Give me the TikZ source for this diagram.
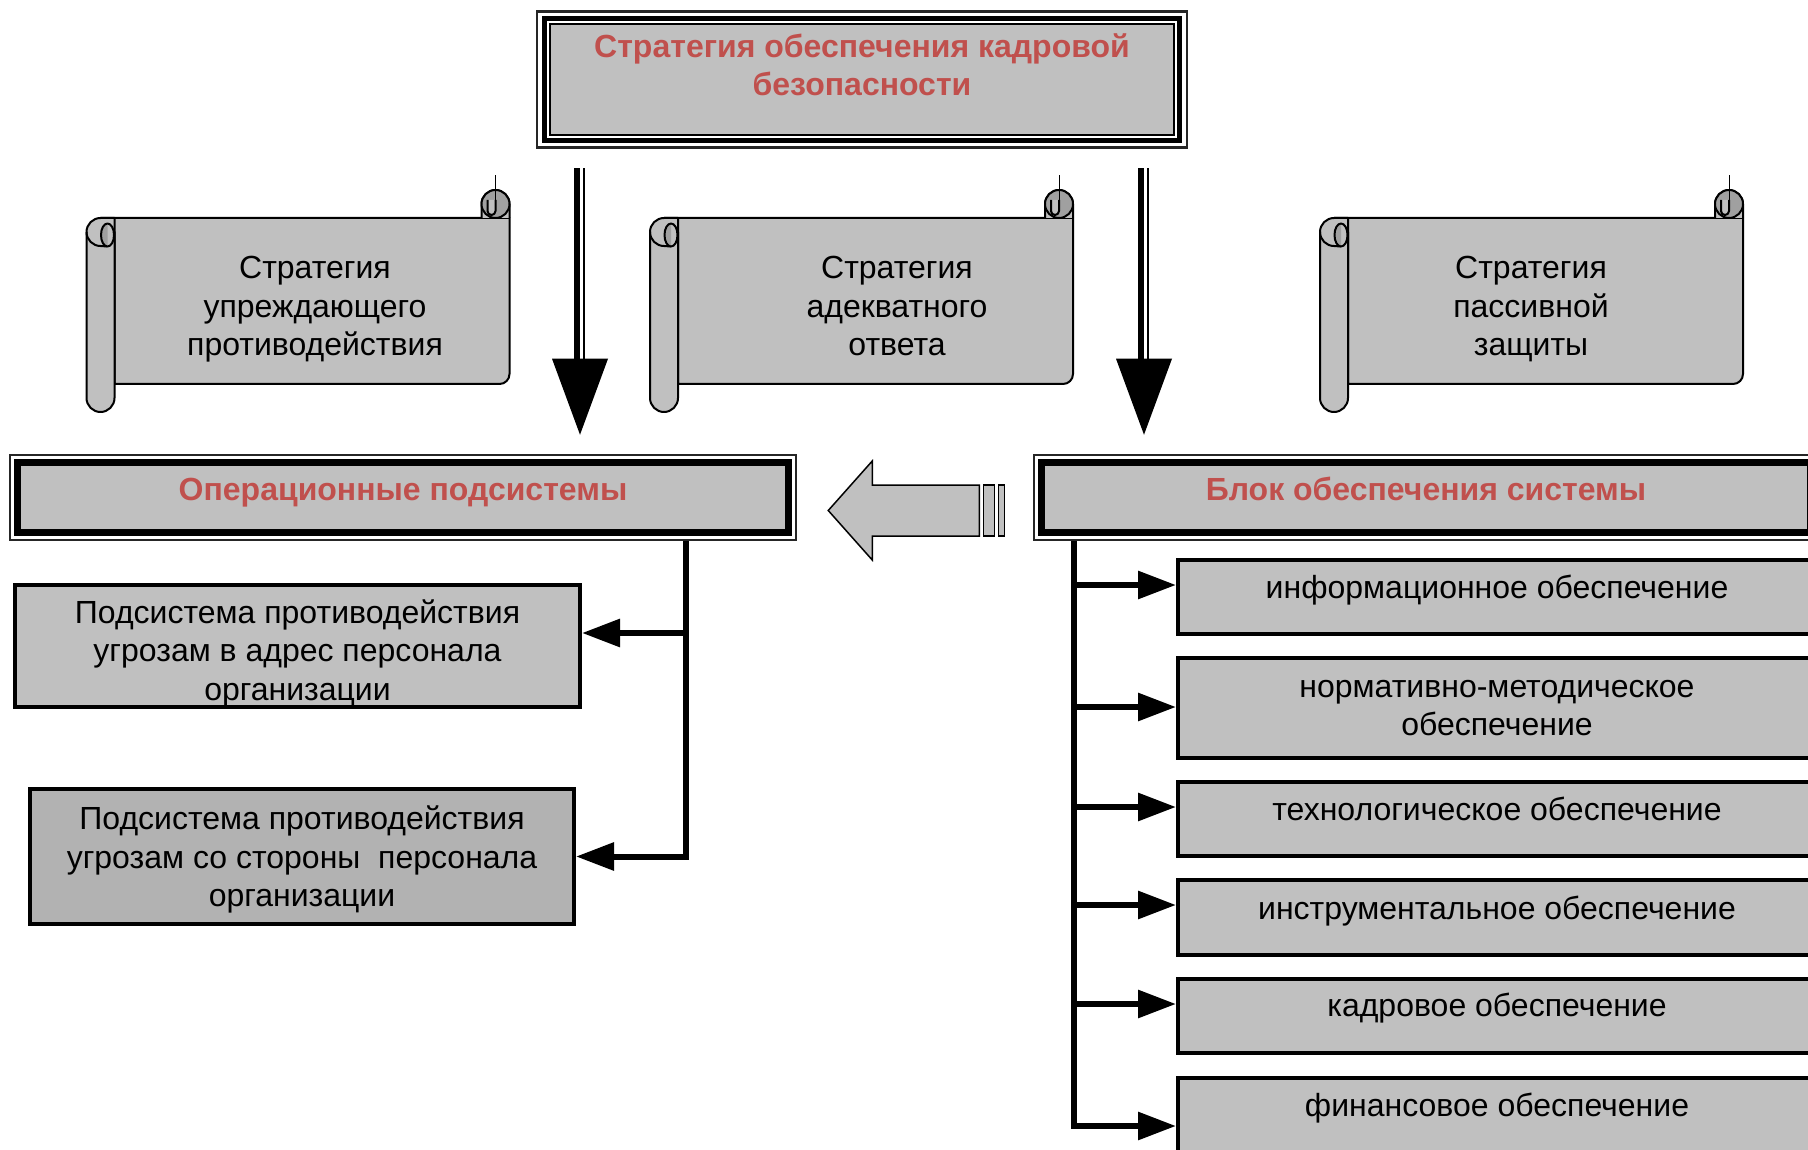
\documentclass[tikz,border=0pt]{standalone}
\usepackage{fontspec}
\setmainfont{Liberation Sans}
\usetikzlibrary{arrows.meta,calc}
\definecolor{boxgray}{HTML}{C0C0C0}
\definecolor{darkbox}{HTML}{B2B2B2}
\definecolor{curlgray}{HTML}{A0A0A0}
\definecolor{hdrred}{HTML}{C0504D}
% #1 name, #2 left x, #3 local text position, #4 text
\newcommand\myscroll[4]{%
  \begin{scope}[shift={(#2,218)}]
    % body
    \draw[scrollline, fill=boxgray] (14,0) -- (423,0) -- (423,156)
      arc[start angle=0,end angle=90,radius=10] -- (28,166) -- (28,14) -- cycle;
    % right curl
    \draw[scrollline, fill=boxgray] (395,0) -- (395,-14)
      arc[start angle=180,end angle=360,radius=14] -- (423,0);
    \draw[scrollline, fill=curlgray] (409,-14) circle[radius=14];
    \draw[scrollline, fill=boxgray] (401,-18) -- (401,-7)
      arc[start angle=180,end angle=0,radius=4] -- (409,-18);
    \draw[line width=0.8pt] (409,-7) -- (409,-43);
    % left roll
    \draw[scrollline, fill=boxgray] (14,0) -- (28,0) -- (28,180)
      arc[start angle=0,end angle=180,radius=14] -- (0,14)
      arc[start angle=180,end angle=270,radius=14] -- cycle;
    \draw[scrollline] (0,14) arc[start angle=180,end angle=90,radius=14] -- (21,28.5);
    \fill[boxgray] (21,17) ellipse[x radius=6.5,y radius=11.5];
    \fill[curlgray] (21,5.5) arc[start angle=270,end angle=90,x radius=6.5,y radius=11.5] -- cycle;
    \draw[scrollline] (21,17) ellipse[x radius=6.5,y radius=11.5];
    \node[txt] (#1) at (#3) {#4};
  \end{scope}}

\begin{document}
\begin{tikzpicture}[x=1pt,y=-1pt,
  txt/.style={font=\fontsize{32}{38.5}\selectfont, align=center, inner sep=0pt},
  hdr/.style={font=\fontsize{32}{38.5}\selectfont\bfseries, align=center, inner sep=0pt, text=hdrred},
  plainbox/.style={draw=black, line width=4pt, fill=boxgray, inner sep=0pt},
  scrollline/.style={draw=black, line width=2pt, line join=round},
  branch/.style={line width=6pt, -{Triangle[length=38pt,width=27pt]}},
  frameout/.style={draw=black!85, line width=2.5pt, inner sep=0pt},
  blockarrow/.style={draw=black, line width=1.5pt, fill=boxgray},
]
\useasboundingbox (0,0) rectangle (1808,1150);
\clip (0,0) rectangle (1808,1150);

% ---- top box
\node[frameout, minimum width=650pt, minimum height=136pt] (top) at (862,79.5) {};
\draw[line width=5pt] ($(top.north west)+(8.5,8.5)$) rectangle ($(top.south east)+(-8.5,-8.5)$);
\draw[line width=2pt, fill=boxgray] ($(top.north west)+(14,14)$) rectangle ($(top.south east)+(-14,-14)$);
\node[hdr] (topT) at ($(top.center)+(0,-14.5)$) {Стратегия обеспечения кадровой\\безопасности};

% ---- scrolls
\myscroll{s1}{86.5}{228.5,91.5}{Стратегия\\упреждающего\\противодействия}
\myscroll{s2}{650}{247,88}{Стратегия\\адекватного\\ответа}
\myscroll{s3}{1320}{211,91.5}{Стратегия\\пассивной\\защиты}

% ---- operational subsystems
\node[frameout, minimum width=786pt, minimum height=85pt] (op) at (403,497.5) {};
\draw[line width=7pt] ($(op.north west)+(8.5,8.5)$) rectangle ($(op.south east)+(-8.5,-8.5)$);
\fill[boxgray] ($(op.north west)+(12,12)$) rectangle ($(op.south east)+(-12,-12)$);
\node[hdr] (opT) at ($(op.center)+(0,-5)$) {Операционные подсистемы};

% ---- support block
\node[frameout, minimum width=784pt, minimum height=85pt] (blok) at (1426,497.5) {};
\draw[line width=7pt] ($(blok.north west)+(8.5,8.5)$) rectangle ($(blok.south east)+(-8.5,-8.5)$);
\fill[boxgray] ($(blok.north west)+(12,12)$) rectangle ($(blok.south east)+(-12,-12)$);
\node[hdr] (blokT) at ($(blok.center)+(0,-8.5)$) {Блок обеспечения системы};

% ---- big down arrows
\coordinate (dL) at ($(top.south)+(-282,19.5)$);
\coordinate (dR) at ($(top.south)+(282,19.5)$);
\foreach \c in {dL,dR}{
  \fill ($(\c |- op.north)+(0,-19)$) -- ++(-28,-76) -- ++(56,0) -- cycle;
  \draw[line width=6pt] ($(\c)+(-3,0)$) -- ($(\c |- op.north)+(-3,-93)$);
  \draw[line width=1.5pt] ($(\c)+(4,0)$) -- ($(\c |- op.north)+(4,-93)$);
}

% ---- hollow arrow from block to operational
\coordinate (ha) at ($(op.east)+(31,13)$);
\draw[blockarrow, line join=miter] (ha) -- ++(44,-49.5) -- ++(0,24) -- ++(107,0) -- ++(0,51)
  -- ++(-107,0) -- ++(0,24) -- cycle;
\draw[blockarrow] ($(ha)+(155,-25.5)$) rectangle ++(11,51);
\draw[blockarrow] ($(ha)+(170,-25.5)$) rectangle ++(6,51);

% ---- left subsystem boxes
\node[plainbox, minimum width=565pt, minimum height=122pt] (b1) at (297.5,646) {};
\node[txt] (b1T) at ($(b1.center)+(0,7)$) {Подсистема противодействия\\угрозам в адрес персонала\\организации};
\node[plainbox, fill=darkbox, minimum width=544pt, minimum height=135pt] (b2) at (302,856.5) {};
\node[txt] (b2T) at ($(b2.center)+(0,3)$) {Подсистема противодействия\\угрозам со стороны\ \ персонала\\организации};

\coordinate (tL) at (686,0);
\coordinate (b1in) at ($(b1.east)+(0,-13)$);
\coordinate (b2in) at (b2.east);
\draw[branch] (op.south -| tL) -- (b2in -| tL) -- (b2in);
\draw[branch] (b1in -| tL) -- (b1in);

% ---- right support boxes
\node[plainbox, minimum width=640pt, minimum height=74pt] (r1) at (1498,597) {};
\node[plainbox, minimum width=640pt, minimum height=100pt] (r2) at (1498,708) {};
\node[plainbox, minimum width=640pt, minimum height=74pt] (r3) at (1498,819) {};
\node[plainbox, minimum width=640pt, minimum height=75pt] (r4) at (1498,917.5) {};
\node[plainbox, minimum width=640pt, minimum height=74pt] (r5) at (1498,1016) {};
\node[plainbox, minimum width=640pt, minimum height=74pt] (r6) at (1498,1115) {};
\node[txt] (rt1) at ($(r1.center)+(-1,-7)$) {информационное обеспечение};
\node[txt] (rt2) at ($(r2.center)+(-1,0)$) {нормативно-методическое\\обеспечение};
\node[txt] (rt3) at ($(r3.center)+(-1,-10)$) {технологическое обеспечение};
\node[txt] (rt4) at ($(r4.center)+(-1,-6.5)$) {инструментальное обеспечение};
\node[txt] (rt5) at ($(r5.center)+(-1,-8)$) {кадровое обеспечение};
\node[txt] (rt6) at ($(r6.center)+(-1,-7)$) {финансовое обеспечение};

\coordinate (tR) at (1074,0);
\coordinate (r1in) at ($(r1.west)+(0,-12)$);
\coordinate (r2in) at ($(r2.west)+(0,-1)$);
\coordinate (r3in) at ($(r3.west)+(0,-12)$);
\coordinate (r4in) at ($(r4.west)+(0,-12.5)$);
\coordinate (r5in) at ($(r5.west)+(0,-12)$);
\coordinate (r6in) at ($(r6.west)+(0,11)$);
\draw[branch] (blok.south -| tR) -- (r6in -| tR) -- (r6in);
\foreach \r in {r1in,r2in,r3in,r4in,r5in}{
  \draw[branch] (\r -| tR) -- (\r);
}
\end{tikzpicture}
\end{document}
